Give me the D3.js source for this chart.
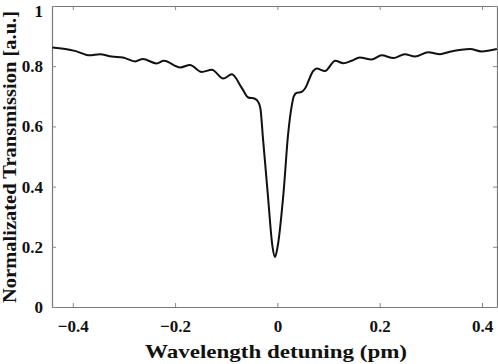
<!DOCTYPE html>
<html>
<head>
<meta charset="utf-8">
<script src="https://cdn.jsdelivr.net/npm/d3@7"></script>
<style>
  body { margin: 0; background: #fff; }
  svg { display: block; }
  .tick text { font-family: "Liberation Serif", "Times New Roman", serif; font-weight: bold; }
</style>
</head>
<body>
<div id="chart"></div>
<script>
// detuning (pm) and normalized transmission
const detuning = [-0.440, -0.396, -0.367, -0.347, -0.324, -0.302, -0.278, -0.263, -0.236, -0.222,
  -0.190, -0.171, -0.148, -0.128, -0.106, -0.089, -0.070, -0.057, -0.044, -0.037, -0.033,
  -0.028, -0.019, -0.0095, -0.0047, 0.0004, 0.012, 0.021, 0.028, 0.032, 0.038, 0.047, 0.054,
  0.070, 0.077, 0.093, 0.113, 0.129, 0.145, 0.161, 0.184, 0.204, 0.227, 0.249, 0.269,
  0.295, 0.318, 0.337, 0.377, 0.399, 0.429];
const transmission = [0.862, 0.851, 0.836, 0.840, 0.832, 0.829, 0.816, 0.824, 0.809, 0.818,
  0.796, 0.804, 0.781, 0.788, 0.759, 0.773, 0.729, 0.696, 0.692, 0.680, 0.657,
  0.557, 0.380, 0.200, 0.166, 0.200, 0.380, 0.575, 0.668, 0.700, 0.712, 0.714, 0.726,
  0.784, 0.792, 0.784, 0.818, 0.810, 0.818, 0.829, 0.822, 0.836, 0.827, 0.840, 0.832,
  0.846, 0.840, 0.848, 0.857, 0.849, 0.857];
const xTicks = [-0.4, -0.2, 0, 0.2, 0.4];
const yTicks = [0, 0.2, 0.4, 0.6, 0.8, 1];

const width = 498, height = 364,
      margin = { top: 6, right: 1, bottom: 57, left: 52 };

const svg = d3.select("#chart").append("svg")
  .attr("width", width)
  .attr("height", height);

const x = d3.scaleLinear()
  .domain([-0.4406, 0.4293])
  .range([margin.left, width - margin.right]);

const y = d3.scaleLinear()
  .domain([0, 1])
  .range([height - margin.bottom, margin.top]);

const fmt = d => d === 0 ? "0" : (d === 1 ? "1" : d3.format(".1f")(d));

// bottom axis with labels, ticks point inward
svg.append("g")
  .attr("transform", `translate(0,${height - margin.bottom})`)
  .call(d3.axisBottom(x).tickValues(xTicks).tickFormat(fmt).tickSizeInner(-4).tickSizeOuter(0).tickPadding(13))
  .call(g => g.selectAll("text").attr("font-size", 17).attr("fill", "#111"));

svg.append("g")
  .attr("transform", `translate(0,${margin.top})`)
  .call(d3.axisTop(x).tickValues(xTicks).tickFormat("").tickSizeInner(-4).tickSizeOuter(0));

svg.append("g")
  .attr("transform", `translate(${margin.left},0)`)
  .call(d3.axisLeft(y).tickValues(yTicks).tickFormat(fmt).tickSizeInner(-4).tickSizeOuter(0).tickPadding(9))
  .call(g => g.selectAll("text").attr("font-size", 17).attr("fill", "#111")
    .attr("dy", d => d === 1 ? "0.6em" : "0.32em"));

svg.append("g")
  .attr("transform", `translate(${width - margin.right},0)`)
  .call(d3.axisRight(y).tickValues(yTicks).tickFormat("").tickSizeInner(-4).tickSizeOuter(0));

svg.selectAll(".domain").attr("stroke", "#777").attr("stroke-width", 1.2);
svg.selectAll(".tick line").attr("stroke", "#888");

const line = d3.line()
  .x((d, i) => x(detuning[i]))
  .y(d => y(d))
  .curve(d3.curveMonotoneX);

svg.append("path")
  .datum(transmission)
  .attr("fill", "none")
  .attr("stroke", "#111")
  .attr("stroke-width", 2)
  .attr("stroke-linejoin", "round")
  .attr("d", line);

svg.append("text")
  .attr("x", 276)
  .attr("y", 358)
  .attr("text-anchor", "middle")
  .attr("font-family", "Liberation Serif, serif")
  .attr("font-weight", "bold")
  .attr("font-size", 19)
  .attr("textLength", 262)
  .attr("lengthAdjust", "spacingAndGlyphs")
  .attr("fill", "#111")
  .text("Wavelength detuning (pm)");

svg.append("text")
  .attr("transform", `translate(16,157) rotate(-90)`)
  .attr("text-anchor", "middle")
  .attr("font-family", "Liberation Serif, serif")
  .attr("font-weight", "bold")
  .attr("font-size", 19)
  .attr("textLength", 292)
  .attr("lengthAdjust", "spacingAndGlyphs")
  .attr("fill", "#111")
  .text("Normalizated Transmission [a.u.]");
</script>
</body>
</html>
